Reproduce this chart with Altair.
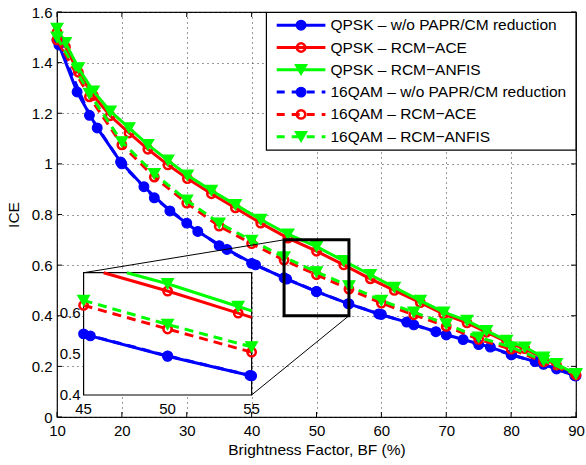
import altair as alt
import pandas as pd

# ---- measured curves: brightness factor BF (%) vs ICE ----
qpsk_wo_bf = [10.3, 13.1, 16.2, 19.8, 23.4, 27.4, 31.7, 36.2, 40.6, 45.4, 50.0, 54.9,
              59.6, 63.9, 68.4, 72.6, 76.8, 80.1, 83.7, 87.0, 89.8]
qpsk_wo_ice = [1.470, 1.284, 1.142, 1.008, 0.910, 0.814, 0.733, 0.662, 0.601, 0.545, 0.495, 0.448,
               0.407, 0.375, 0.337, 0.306, 0.276, 0.246, 0.219, 0.190, 0.163]

qpsk_bf = [10.0, 11.3, 13.3, 15.6, 18.2, 21.1, 24.0, 27.1, 30.1, 33.8, 37.5, 41.4, 45.6, 50.0,
           54.2, 58.3, 62.0, 66.0, 69.6, 73.2, 76.2, 79.3, 82.1, 85.0, 87.0, 89.9]
qpsk_ace_ice = [1.520, 1.462, 1.362, 1.270, 1.190, 1.122, 1.058, 0.996, 0.942, 0.882, 0.826, 0.766,
                0.707, 0.655, 0.601, 0.546, 0.500, 0.452, 0.406, 0.372, 0.335, 0.297, 0.270,
                0.232, 0.205, 0.168]
qpsk_anfis_ice = [1.535, 1.479, 1.379, 1.287, 1.208, 1.142, 1.076, 1.014, 0.955, 0.895, 0.839, 0.780,
                  0.722, 0.673, 0.617, 0.562, 0.512, 0.460, 0.414, 0.381, 0.341, 0.302, 0.276,
                  0.236, 0.210, 0.170]

qam_bf = [10, 15, 20, 25, 30, 35, 40, 45, 50, 55, 60, 65, 70, 75, 80, 85, 90]
qam_wo_ice = [1.489, 1.192, 1.000, 0.866, 0.766, 0.677, 0.607, 0.550, 0.496, 0.447, 0.405,
              0.364, 0.324, 0.286, 0.246, 0.208, 0.162]
qam_ace_ice = [1.490, 1.265, 1.075, 0.948, 0.845, 0.754, 0.685, 0.620, 0.562, 0.505, 0.450,
               0.404, 0.358, 0.307, 0.268, 0.218, 0.166]
qam_anfis_ice = [1.500, 1.278, 1.087, 0.961, 0.856, 0.766, 0.697, 0.632, 0.573, 0.518, 0.460,
                 0.414, 0.368, 0.315, 0.276, 0.223, 0.170]

labels = [
    "QPSK \u2013 w/o PAPR/CM reduction",
    "QPSK \u2013 RCM\u2212ACE",
    "QPSK \u2013 RCM\u2212ANFIS",
    "16QAM \u2013 w/o PAPR/CM reduction",
    "16QAM \u2013 RCM\u2212ACE",
    "16QAM \u2013 RCM\u2212ANFIS",
]
x_ticks = [10, 20, 30, 40, 50, 60, 70, 80, 90]
y_ticks = [0, 0.2, 0.4, 0.6, 0.8, 1.0, 1.2, 1.4, 1.6]

# zoomed window and where its magnified copy sits (main-axis units)
zoom_x = [45, 55]
zoom_y = [0.4, 0.7]
inset_x = [14.1, 40.0]
inset_y = [0.087, 0.570]
inset_x_ticks = [45, 50, 55]
inset_y_ticks = [0.4, 0.5, 0.6]

BLUE, RED, GREEN = "#0000ff", "#ff0000", "#00ff00"
FONT = "Liberation Sans"
DASH = [9, 6]

styles = [
    dict(color=BLUE, shape="circle", filled=True, size=95, dash=None),
    dict(color=RED, shape="circle", filled=False, size=70, dash=None),
    dict(color=GREEN, shape="triangle-down", filled=True, size=140, dash=None),
    dict(color=BLUE, shape="circle", filled=True, size=95, dash=DASH),
    dict(color=RED, shape="circle", filled=False, size=70, dash=DASH),
    dict(color=GREEN, shape="triangle-down", filled=True, size=140, dash=DASH),
]
series = [
    (qpsk_wo_bf, qpsk_wo_ice),
    (qpsk_bf, qpsk_ace_ice),
    (qpsk_bf, qpsk_anfis_ice),
    (qam_bf, qam_wo_ice),
    (qam_bf, qam_ace_ice),
    (qam_bf, qam_anfis_ice),
]

W, H = 519.0, 405.0
x_dom, y_dom = [10, 90], [0, 1.6]


def line_opts(st):
    opts = dict(color=st["color"], strokeWidth=3)
    if st["dash"]:
        opts["strokeDash"] = st["dash"]
    return opts


def point_opts(st):
    opts = dict(shape=st["shape"], filled=st["filled"], size=st["size"],
                color=st["color"], opacity=1)
    if st["filled"]:
        opts.update(stroke=st["color"], strokeWidth=1.2)
    else:
        opts.update(strokeWidth=2.5)
    return opts


def clip_path(xs, ys, xw, yw):
    """Cut a polyline down to the part that lies inside the window xw x yw
    (Liang-Barsky on each segment), so the drawn path stops at the frame."""
    out = []
    for (x0, y0), (x1, y1) in zip(zip(xs, ys), zip(xs[1:], ys[1:])):
        dx, dy = x1 - x0, y1 - y0
        t0, t1 = 0.0, 1.0
        ok = True
        for p, q in ((-dx, x0 - xw[0]), (dx, xw[1] - x0), (-dy, y0 - yw[0]), (dy, yw[1] - y0)):
            if p == 0:
                if q < 0:
                    ok = False
                    break
                continue
            r = q / p
            if p < 0:
                t0 = max(t0, r)
            else:
                t1 = min(t1, r)
        if not ok or t0 >= t1:
            continue
        a = (x0 + t0 * dx, y0 + t0 * dy)
        b = (x0 + t1 * dx, y0 + t1 * dy)
        if not out or abs(out[-1][0] - a[0]) > 1e-9 or abs(out[-1][1] - a[1]) > 1e-9:
            out.append(a)
        out.append(b)
    return pd.DataFrame(out, columns=["bf", "ice"])


# ---- main axes ----
X_MAIN = alt.X("bf:Q", scale=alt.Scale(domain=x_dom, nice=False, zero=False),
               axis=alt.Axis(values=x_ticks, title="Brightness Factor, BF (%)",
                             grid=True, gridDash=[1, 4], gridColor="#333333",
                             labelPadding=6, titlePadding=4, labelFlush=False))
Y_MAIN = alt.Y("ice:Q", scale=alt.Scale(domain=y_dom, nice=False),
               axis=alt.Axis(values=y_ticks, title="ICE", format="~g",
                             grid=True, gridDash=[1, 4], gridColor="#333333",
                             labelPadding=5, titlePadding=10, labelFlush=False))

main_layers = []
for (bf, ice), st in zip(series, styles):
    base = alt.Chart(pd.DataFrame({"bf": bf, "ice": ice})).encode(x=X_MAIN, y=Y_MAIN)
    main_layers.append(base.mark_line(**line_opts(st)))
    main_layers.append(base.mark_point(**point_opts(st)))

# inward tick marks on all four sides of the box
xt = alt.Chart(pd.DataFrame({"bf": x_ticks}))
yt = alt.Chart(pd.DataFrame({"ice": y_ticks}))
main_layers += [
    xt.mark_rule(color="black", strokeWidth=1).encode(x=alt.X("bf:Q"), y=alt.value(H), y2=alt.value(H - 5)),
    xt.mark_rule(color="black", strokeWidth=1).encode(x=alt.X("bf:Q"), y=alt.value(0), y2=alt.value(5)),
    yt.mark_rule(color="black", strokeWidth=1).encode(y=alt.Y("ice:Q"), x=alt.value(0), x2=alt.value(5)),
    yt.mark_rule(color="black", strokeWidth=1).encode(y=alt.Y("ice:Q"), x=alt.value(W - 5), x2=alt.value(W)),
]

zoom_df = pd.DataFrame({"x0": [zoom_x[0]], "x1": [zoom_x[1]],
                        "y0": [zoom_y[0]], "y1": [zoom_y[1]]})
main_layers.append(
    alt.Chart(zoom_df).mark_rect(fillOpacity=0, stroke="black", strokeWidth=3)
    .encode(x=alt.X("x0:Q"), x2="x1", y=alt.Y("y0:Q"), y2="y1")
)
conn_df = pd.DataFrame({
    "x0": [inset_x[0], inset_x[1]], "x1": [zoom_x[0], zoom_x[1]],
    "y0": [inset_y[1], inset_y[0]], "y1": [zoom_y[1], zoom_y[0]],
})
main_layers.append(
    alt.Chart(conn_df).mark_rule(color="black", strokeWidth=1)
    .encode(x=alt.X("x0:Q"), x2="x1", y=alt.Y("y0:Q"), y2="y1")
)
inset_df = pd.DataFrame({"x0": [inset_x[0]], "x1": [inset_x[1]],
                         "y0": [inset_y[0]], "y1": [inset_y[1]]})
main_layers.append(
    alt.Chart(inset_df).mark_rect(fill="white", stroke="black", strokeWidth=1.2)
    .encode(x=alt.X("x0:Q"), x2="x1", y=alt.Y("y0:Q"), y2="y1")
)
main_group = alt.layer(*main_layers)

# ---- magnified inset: own scales mapped onto the inset rectangle ----
sx = W / (x_dom[1] - x_dom[0])
sy = H / (y_dom[1] - y_dom[0])
in_x_range = [(inset_x[0] - x_dom[0]) * sx, (inset_x[1] - x_dom[0]) * sx]
in_y_range = [(y_dom[1] - inset_y[0]) * sy, (y_dom[1] - inset_y[1]) * sy]
X_IN = alt.X("bf:Q", scale=alt.Scale(domain=zoom_x, range=in_x_range, nice=False, zero=False), axis=None)
Y_IN = alt.Y("ice:Q", scale=alt.Scale(domain=zoom_y, range=in_y_range, nice=False, zero=False), axis=None)

inset_layers = []
for (bf, ice), st in zip(series, styles):
    path = clip_path(bf, ice, zoom_x, zoom_y)
    pts = pd.DataFrame({"bf": bf, "ice": ice})
    pts = pts[(pts.bf >= zoom_x[0]) & (pts.bf <= zoom_x[1]) &
              (pts.ice >= zoom_y[0]) & (pts.ice <= zoom_y[1])]
    inset_layers.append(alt.Chart(path).mark_line(**line_opts(st)).encode(x=X_IN, y=Y_IN))
    inset_layers.append(alt.Chart(pts).mark_point(**point_opts(st)).encode(x=X_IN, y=Y_IN))

inset_layers.append(
    alt.Chart(pd.DataFrame({"bf": inset_x_ticks, "t": [str(v) for v in inset_x_ticks]}))
    .mark_text(font=FONT, fontSize=15, color="black", baseline="top")
    .encode(x=X_IN, y=alt.value(in_y_range[0] + 7), text="t:N")
)
inset_layers.append(
    alt.Chart(pd.DataFrame({"ice": inset_y_ticks, "t": [f"{v:.1f}" for v in inset_y_ticks]}))
    .mark_text(font=FONT, fontSize=15, color="black", align="right", baseline="middle")
    .encode(y=Y_IN, x=alt.value(in_x_range[0] - 3), text="t:N")
)
inset_group = alt.layer(*inset_layers)

# ---- legend box (top-right, inside the axes) ----
LEG_X0, LEG_TOP, LEG_BOTTOM = 209.4, 0.5, 138.2
LEG_ROW0, LEG_STEP = 13.2, 22.3
LEG_L0, LEG_L1, LEG_TXT = 219.7, 268.4, 273.4
one = pd.DataFrame({"k": [0]})
legend_layers = [
    alt.Chart(one).mark_rect(fill="white", stroke="black", strokeWidth=1.2)
    .encode(x=alt.value(LEG_X0), x2=alt.value(W), y=alt.value(LEG_TOP), y2=alt.value(LEG_BOTTOM))
]
for i, (lab, st) in enumerate(zip(labels, styles)):
    yy = LEG_ROW0 + i * LEG_STEP
    c = alt.Chart(one)
    lo = line_opts(st)
    if st["dash"]:
        lo["strokeDash"] = [8, 7]
    legend_layers.append(c.mark_rule(**lo).encode(
        x=alt.value(LEG_L0), x2=alt.value(LEG_L1), y=alt.value(yy)))
    legend_layers.append(c.mark_point(**point_opts(st)).encode(
        x=alt.value((LEG_L0 + LEG_L1) / 2), y=alt.value(yy)))
    legend_layers.append(c.mark_text(align="left", baseline="middle", font=FONT, fontSize=15.5,
                                     color="black").encode(
        x=alt.value(LEG_TXT), y=alt.value(yy), text=alt.value(lab)))

chart = alt.layer(
    main_group, inset_group, *legend_layers
).resolve_scale(
    x="independent", y="independent"
).properties(
    width=W, height=H,
    view=alt.ViewBackground(stroke="black", strokeWidth=1.2),
    padding={"left": 6, "top": 5, "right": 0, "bottom": 0},
    background="white",
).configure_axis(
    labelFont=FONT, titleFont=FONT, labelFontSize=15, titleFontSize=15.5,
    labelColor="black", titleColor="black", titleFontWeight="normal",
    tickSize=0, domain=False, labelOverlap=False,
)

chart.save("out.html", embed_options={"renderer": "svg", "actions": False})
